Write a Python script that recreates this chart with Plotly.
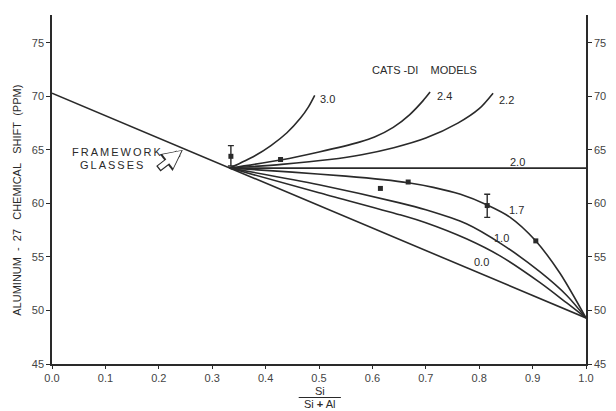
import plotly.graph_objects as go

# ---------------- data ----------------
framework_x = [0.0, 1.0]
framework_y = [70.3, 49.3]

curve_30_x = [0.333, 0.38, 0.41, 0.44, 0.465, 0.48, 0.492]
curve_30_y = [63.3, 64.45, 65.4, 66.6, 67.95, 69.0, 70.1]

curve_24_x = [0.333, 0.428, 0.50, 0.577, 0.604, 0.639, 0.670, 0.695, 0.708]
curve_24_y = [63.3, 64.05, 64.8, 65.75, 66.2, 67.1, 68.3, 69.6, 70.4]

curve_22_x = [0.333, 0.43, 0.52, 0.58, 0.64, 0.70, 0.76, 0.80, 0.826]
curve_22_y = [63.3, 63.65, 64.1, 64.55, 65.2, 66.1, 67.5, 68.85, 70.3]

curve_20_x = [0.333, 1.0]
curve_20_y = [63.3, 63.3]

curve_17_x = [0.333, 0.45, 0.55, 0.62, 0.667, 0.714, 0.765, 0.815, 0.858, 0.904, 0.951, 1.0]
curve_17_y = [63.3, 62.92, 62.55, 62.22, 61.93, 61.5, 60.85, 59.85, 58.7, 56.6, 53.5, 49.3]

curve_10_x = [0.333, 0.50, 0.651, 0.70, 0.776, 0.842, 0.914, 0.964, 1.0]
curve_10_y = [63.3, 61.75, 60.05, 59.4, 58.1, 56.2, 53.6, 51.4, 49.3]

curve_00_x = [0.333, 0.50, 0.651, 0.70, 0.776, 0.839, 0.914, 0.964, 1.0]
curve_00_y = [63.3, 61.0, 58.95, 58.2, 56.7, 55.1, 52.6, 50.7, 49.3]

pts_x = [0.428, 0.615, 0.667, 0.906]
pts_y = [64.1, 61.4, 62.0, 56.5]

err_x = [0.335, 0.815]
err_y = [64.4, 59.8]
err_plus = [1.0, 1.05]
err_minus = [0.9, 1.1]

curve_labels = ["3.0", "2.4", "2.2", "2.0", "1.7", "1.0", "0.0"]
label_x = [0.498, 0.717, 0.833, 0.871, 0.870, 0.842, 0.805]
label_y = [69.8, 70.05, 69.7, 63.9, 59.4, 56.8, 54.5]
label_anchor = ["left", "left", "left", "center", "center", "center", "center"]

x_ticks = [0.0, 0.1, 0.2, 0.3, 0.4, 0.5, 0.6, 0.7, 0.8, 0.9, 1.0]
x_ticktext = ["0.0", "0.1", "0.2", "0.3", "0.4", "0.5", "0.6", "0.7", "0.8", "0.9", "1.0"]
y_ticks = [45, 50, 55, 60, 65, 70, 75]

# ---------------- figure ----------------
INK = "#2a2a2a"
FONT = "Liberation Sans, Arial, sans-serif"
fig = go.Figure()

fig.add_trace(go.Scatter(x=framework_x, y=framework_y, mode="lines",
                         line=dict(color=INK, width=1.6)))
for cx, cy in [(curve_30_x, curve_30_y), (curve_24_x, curve_24_y), (curve_22_x, curve_22_y),
               (curve_20_x, curve_20_y), (curve_17_x, curve_17_y), (curve_10_x, curve_10_y),
               (curve_00_x, curve_00_y)]:
    fig.add_trace(go.Scatter(x=cx, y=cy, mode="lines",
                             line=dict(color=INK, width=1.6, shape="spline", smoothing=0.8)))

fig.add_trace(go.Scatter(x=pts_x, y=pts_y, mode="markers",
                         marker=dict(symbol="square", size=5, color=INK)))
fig.add_trace(go.Scatter(x=err_x, y=err_y, mode="markers",
                         marker=dict(symbol="square", size=5, color=INK),
                         error_y=dict(type="data", array=err_plus, arrayminus=err_minus,
                                      visible=True, color=INK, thickness=1.4, width=3)))
# invisible trace to anchor the right axis
fig.add_trace(go.Scatter(x=[0.5], y=[60], yaxis="y2", mode="markers",
                         marker=dict(opacity=0), hoverinfo="skip"))

annotations = []
for t, lx, ly, anc in zip(curve_labels, label_x, label_y, label_anchor):
    annotations.append(dict(x=lx, y=ly, text=t, showarrow=False, xanchor=anc,
                            yanchor="middle", font=dict(size=11, color=INK, family=FONT)))

annotations.append(dict(x=0.698, y=72.5, text="CATS\u00a0-DI\u00a0\u00a0\u00a0\u00a0MODELS",
                        showarrow=False, font=dict(size=11, color=INK, family=FONT)))
annotations.append(dict(x=0.122, y=64.8,
                        text="<span style='letter-spacing:2px'>FRAMEWORK</span>",
                        showarrow=False, font=dict(size=11, color=INK, family=FONT)))
annotations.append(dict(x=0.114, y=63.6,
                        text="<span style='letter-spacing:2px'>GLASSES</span>",
                        showarrow=False, font=dict(size=11, color=INK, family=FONT)))
# hollow arrow (dark outline + white core)
annotations.append(dict(x=0.245, y=65.0, ax=-26, ay=20, showarrow=True, text="",
                        arrowhead=2, arrowsize=0.6, arrowwidth=7, arrowcolor=INK))
annotations.append(dict(x=0.2424, y=64.92, ax=-23.6, ay=18.2, showarrow=True, text="",
                        arrowhead=2, arrowsize=0.72, arrowwidth=4.8, arrowcolor="white"))
# y-axis title
annotations.append(dict(xref="paper", yref="paper", x=-0.066, y=0.47, textangle=-90,
                        text="ALUMINUM\u00a0\u00a0-\u00a0\u00a027\u00a0\u00a0\u00a0CHEMICAL\u00a0\u00a0\u00a0SHIFT\u00a0\u00a0(PPM)",
                        showarrow=False, xanchor="center", yanchor="middle",
                        font=dict(size=11, color=INK, family=FONT)))
# x-axis title as fraction
annotations.append(dict(xref="paper", yref="paper", x=0.501, y=-0.077, text="Si",
                        showarrow=False, yanchor="middle",
                        font=dict(size=11, color=INK, family=FONT)))
annotations.append(dict(xref="paper", yref="paper", x=0.501, y=-0.1146, text="Si <b>+</b> Al",
                        showarrow=False, yanchor="middle",
                        font=dict(size=11, color=INK, family=FONT)))

shapes = [dict(type="line", xref="paper", yref="paper", x0=0.462, x1=0.541,
               y0=-0.096, y1=-0.096, line=dict(color=INK, width=1.2))]

axis_common = dict(showgrid=False, zeroline=False, showline=True, linecolor=INK,
                   linewidth=1.5, ticks="outside", tickcolor=INK, tickwidth=1.2,
                   tickfont=dict(size=11, color="#444", family=FONT))

# the page body has an 8px margin; size the figure so the plot area lands where the reference has it
fig.update_layout(
    width=608, height=403,
    margin=dict(l=44, r=30, t=7, b=47),
    paper_bgcolor="white", plot_bgcolor="white",
    showlegend=False,
    xaxis=dict(range=[0, 1], tickvals=x_ticks, ticktext=x_ticktext, ticklen=3, **axis_common),
    yaxis=dict(range=[45, 77.6], tickvals=y_ticks, ticklen=4, **axis_common),
    yaxis2=dict(range=[45, 77.6], tickvals=y_ticks, ticklen=4, overlaying="y", side="right",
                **axis_common),
    annotations=annotations,
    shapes=shapes,
)

fig.write_html("out.html")
